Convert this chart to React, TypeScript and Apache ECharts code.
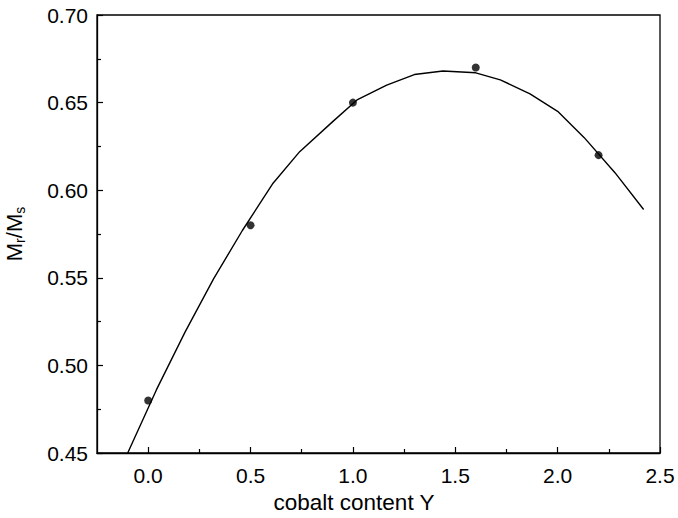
import React, { useEffect, useRef } from "react";
import * as echarts from "echarts";

// measured points
const pointX = [0.0, 0.5, 1.0, 1.6, 2.2];
const pointY = [0.48, 0.58, 0.65, 0.67, 0.62];

// fitted curve (polyline vertices)
const fitX = [-0.1, 0.04, 0.18, 0.32, 0.46, 0.61, 0.74, 0.9, 1.02, 1.165, 1.3, 1.44, 1.6, 1.72, 1.865, 2.0, 2.13, 2.28, 2.42];
const fitY = [0.45, 0.486, 0.519, 0.5495, 0.577, 0.604, 0.622, 0.639, 0.6515, 0.66, 0.666, 0.668, 0.667, 0.663, 0.655, 0.645, 0.63, 0.61, 0.589];

// axis ticks
const xMajorTicks = [0, 0.5, 1.0, 1.5, 2.0, 2.5];
const xMinorTicks = [0.25, 0.75, 1.25, 1.75, 2.25];
const xMin = -0.25;
const xMax = 2.5;
const yMin = 0.45;
const yMax = 0.7;
const yStep = 0.05;

const FONT = "'Liberation Sans', Arial, sans-serif";

export default function App() {
  const ref = useRef<HTMLDivElement>(null);

  useEffect(() => {
    if (!ref.current) return;
    const chart = echarts.init(ref.current, undefined, { renderer: "svg" });
    const gridPos = { left: 97, right: 18, top: 15, bottom: 65, containLabel: false, outerBoundsMode: "none" };
    chart.setOption({
      animation: false,
      backgroundColor: "#ffffff",
      textStyle: { fontFamily: FONT, color: "#000" },
      grid: [
        { ...gridPos, show: true, borderColor: "#000", borderWidth: 1.3 },
        { ...gridPos, show: false },
      ],
      xAxis: [
        {
          type: "value",
          gridIndex: 0,
          min: xMin,
          max: xMax,
          interval: 0.25,
          axisLine: { show: true, onZero: false, lineStyle: { color: "#000", width: 1.3 } },
          axisTick: { show: true, inside: true, length: 6, customValues: xMajorTicks, lineStyle: { color: "#000", width: 1.2 } },
          axisLabel: {
            show: true,
            customValues: xMajorTicks,
            margin: 12,
            fontSize: 21,
            color: "#000",
            fontFamily: FONT,
            formatter: (v: number) => v.toFixed(1),
          },
          splitLine: { show: false },
          name: "cobalt content Y",
          nameLocation: "middle",
          nameGap: 38,
          nameTextStyle: { fontSize: 22.5, color: "#000", fontFamily: FONT, padding: [0, 49, 0, 0] },
        },
        {
          type: "value",
          gridIndex: 1,
          min: xMin,
          max: xMax,
          interval: 0.25,
          axisLine: { show: false },
          axisTick: { show: true, inside: true, length: 4, customValues: xMinorTicks, lineStyle: { color: "#000", width: 1.2 } },
          axisLabel: { show: false },
          splitLine: { show: false },
        },
      ],
      yAxis: [
        {
          type: "value",
          gridIndex: 0,
          min: yMin,
          max: yMax,
          interval: yStep,
          axisLine: { show: true, onZero: false, lineStyle: { color: "#000", width: 1.3 } },
          axisTick: { show: true, inside: true, length: 6, lineStyle: { color: "#000", width: 1.2 } },
          minorTick: { show: true, splitNumber: 2, length: 4, lineStyle: { color: "#000", width: 1.2 } },
          axisLabel: {
            margin: 9,
            fontSize: 21,
            color: "#000",
            fontFamily: FONT,
            formatter: (v: number) => v.toFixed(2),
          },
          splitLine: { show: false },
          minorSplitLine: { show: false },
          name: "M{sub|r}/M{sub|s}",
          nameLocation: "middle",
          nameRotate: 90,
          nameGap: 70,
          nameTextStyle: {
            fontSize: 22,
            color: "#000",
            fontFamily: FONT,
            lineHeight: 26,
            rich: {
              sub: { fontSize: 14, fontFamily: FONT, color: "#000", lineHeight: 14, padding: [12, 0, 0, 0], verticalAlign: "bottom" },
            },
          },
        },
        {
          type: "value",
          gridIndex: 1,
          min: yMin,
          max: yMax,
          show: false,
        },
      ],
      series: [
        {
          type: "line",
          xAxisIndex: 0,
          yAxisIndex: 0,
          data: fitX.map((x, i) => [x, fitY[i]]),
          showSymbol: false,
          symbol: "none",
          lineStyle: { color: "#000", width: 1.4 },
          silent: true,
          z: 2,
        },
        {
          type: "scatter",
          xAxisIndex: 0,
          yAxisIndex: 0,
          data: pointX.map((x, i) => [x, pointY[i]]),
          symbol: "circle",
          symbolSize: 8,
          itemStyle: { color: "#000" },
          z: 3,
        },
      ],
    });
    return () => chart.dispose();
  }, []);

  return (
    <div
      ref={ref}
      style={{ position: "absolute", left: 0, top: 0, width: 678, height: 518, background: "#fff" }}
    />
  );
}
